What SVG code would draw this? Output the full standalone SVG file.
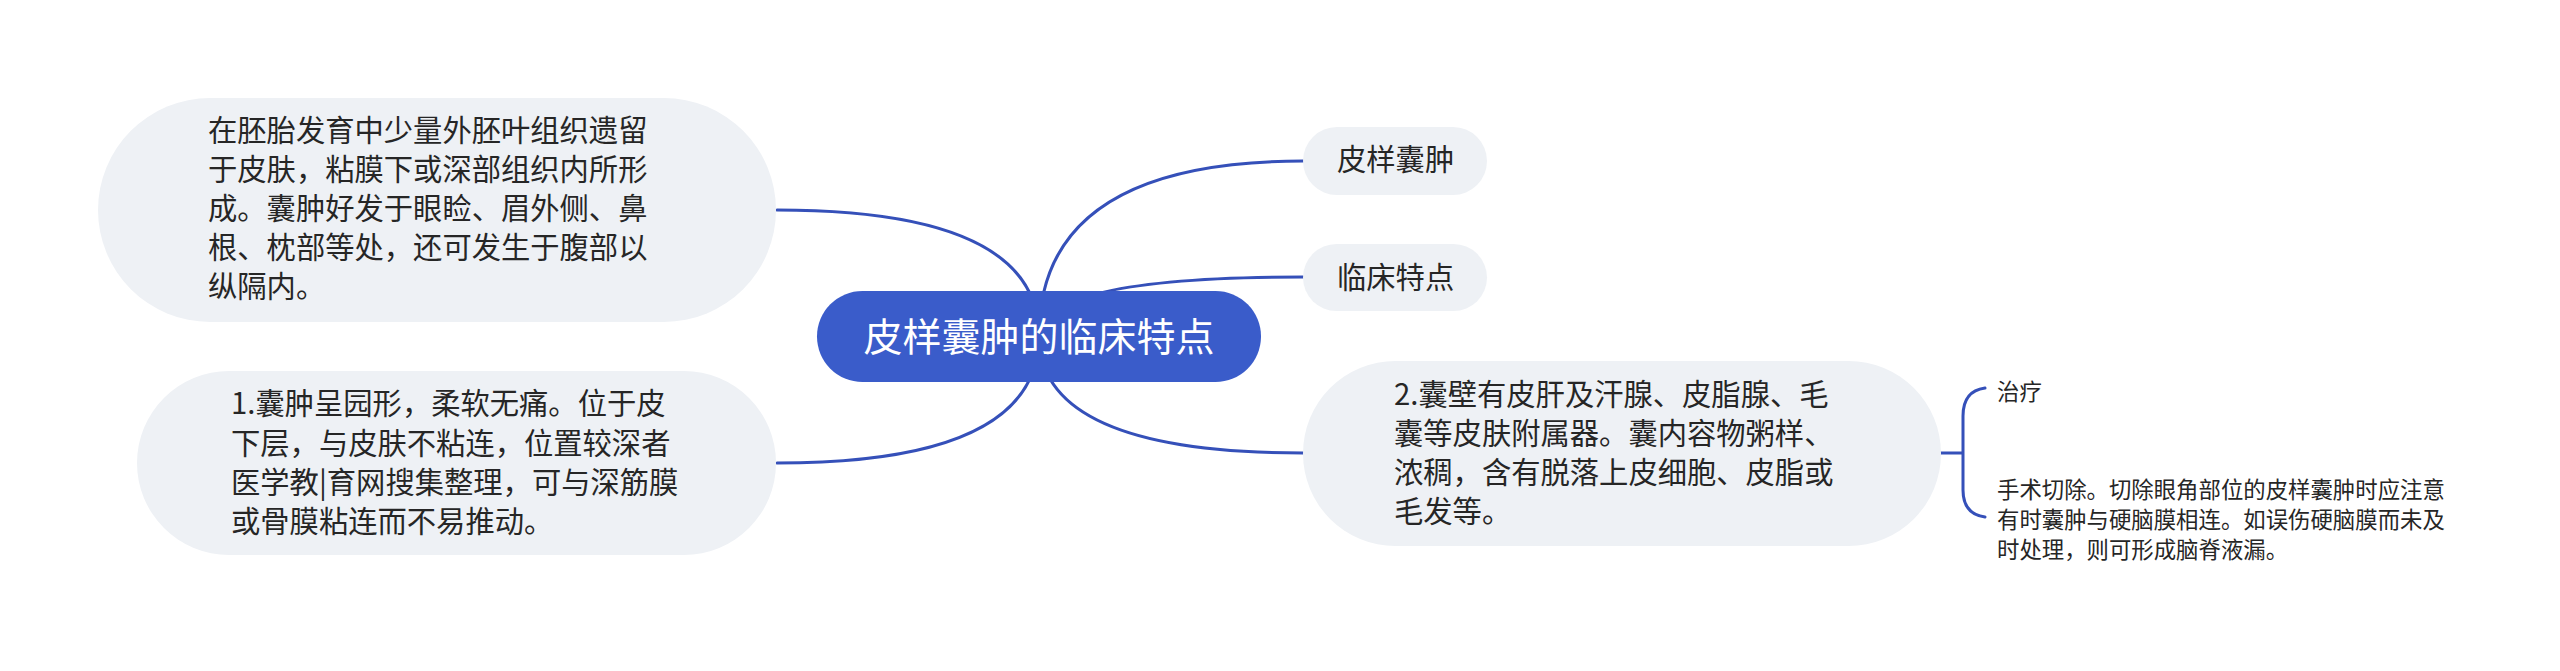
<svg xmlns="http://www.w3.org/2000/svg" width="2560" height="671" viewBox="0 0 2560 671">
<style>
.bg{fill:#ffffff}
.node{fill:#eef1f5}
.root{fill:#3a5cca}
.link{fill:none;stroke:#3550b9;stroke-width:3;stroke-linecap:round}
.t{font-family:"Noto Sans CJK SC","Noto Sans",sans-serif;fill:#262626}
.big{font-size:29.3px}
.small{font-size:22.4px}
.rt{font-family:"Noto Sans CJK SC","Noto Sans",sans-serif;font-size:39px;fill:#ffffff}
</style>
<rect class="bg" x="0" y="0" width="2560" height="671"/>
<g id="connectors">
<path class="link" d="M1039,336 Q1039,210 777,210"/>
<path class="link" d="M1039,336 Q1039,463 777,463"/>
<path class="link" d="M1039,336 Q1039,161 1303,161"/>
<path class="link" d="M1039,336 Q1039,277 1303,277"/>
<path class="link" d="M1039,336 Q1039,453 1303,453"/>
<path class="link" d="M1940,453 H1963 M1985,388 C1970,390 1963,400 1963,416 V490 C1963,506 1970,515 1985,517"/>
</g>
<g id="root">
<rect class="root" x="817" y="291" width="444" height="91" rx="45.5"/>
<text class="rt" x="1039" y="351" text-anchor="middle">皮样囊肿的临床特点</text>
</g>
<g id="node-left-1">
<rect class="node" x="98" y="98" width="678" height="224" rx="112"/>
<text class="t big" x="208" y="141">在胚胎发育中少量外胚叶组织遗留</text>
<text class="t big" x="208" y="180">于皮肤，粘膜下或深部组织内所形</text>
<text class="t big" x="208" y="219">成。囊肿好发于眼睑、眉外侧、鼻</text>
<text class="t big" x="208" y="258">根、枕部等处，还可发生于腹部以</text>
<text class="t big" x="208" y="297">纵隔内。</text>
</g>
<g id="node-left-2">
<rect class="node" x="137" y="371" width="639" height="184" rx="92"/>
<text class="t big" x="231" y="414">1.囊肿呈园形，柔软无痛。位于皮</text>
<text class="t big" x="231" y="454">下层，与皮肤不粘连，位置较深者</text>
<text class="t big" x="231" y="493">医学教|育网搜集整理，可与深筋膜</text>
<text class="t big" x="231" y="532">或骨膜粘连而不易推动。</text>
</g>
<g id="node-right-1">
<rect class="node" x="1303" y="127" width="184" height="68" rx="34"/>
<text class="t big" x="1337" y="170">皮样囊肿</text>
</g>
<g id="node-right-2">
<rect class="node" x="1303" y="244" width="184" height="67" rx="33.5"/>
<text class="t big" x="1337" y="288">临床特点</text>
</g>
<g id="node-right-3">
<rect class="node" x="1303" y="361" width="638" height="185" rx="92.5"/>
<text class="t big" x="1394" y="405">2.囊壁有皮肝及汗腺、皮脂腺、毛</text>
<text class="t big" x="1394" y="444">囊等皮肤附属器。囊内容物粥样、</text>
<text class="t big" x="1394" y="483">浓稠，含有脱落上皮细胞、皮脂或</text>
<text class="t big" x="1394" y="522">毛发等。</text>
</g>
<g id="leaf-1">
<text class="t small" x="1997" y="400">治疗</text>
</g>
<g id="leaf-2">
<text class="t small" x="1997" y="498">手术切除。切除眼角部位的皮样囊肿时应注意</text>
<text class="t small" x="1997" y="528">有时囊肿与硬脑膜相连。如误伤硬脑膜而未及</text>
<text class="t small" x="1997" y="558">时处理，则可形成脑脊液漏。</text>
</g>
</svg>
